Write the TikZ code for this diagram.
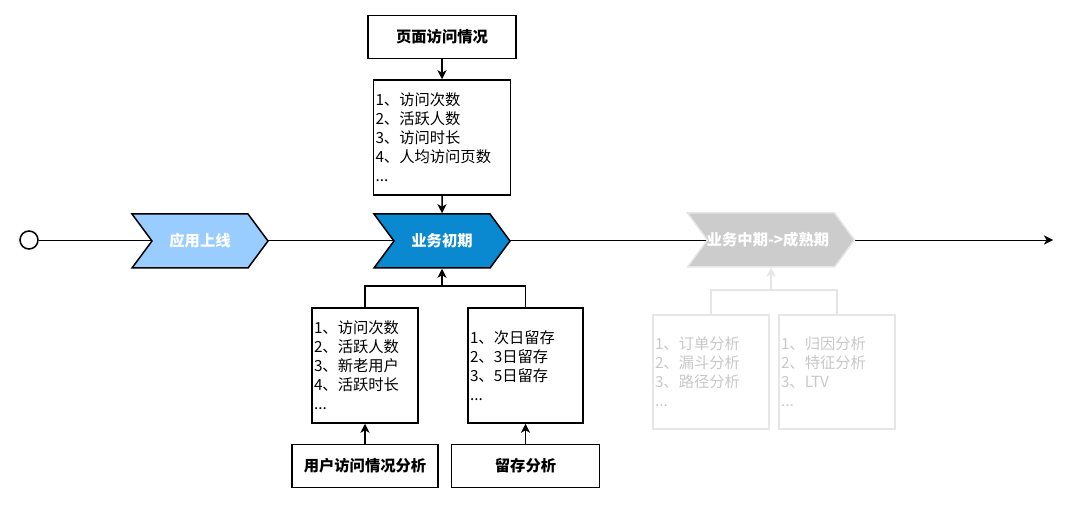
\documentclass[tikz,border=0pt]{standalone}
\usepackage{fontspec}
\setmainfont{Noto Sans CJK SC}
\usetikzlibrary{arrows.meta,shapes.symbols,positioning,backgrounds}

\definecolor{lightblue}{HTML}{99CCFF}
\definecolor{darkblue}{HTML}{0A88D0}
\definecolor{fadefill}{HTML}{CCCCCC}
\definecolor{fadeline}{HTML}{E6E6E6}
\definecolor{fadetext}{HTML}{C8C8C8}

\begin{document}
\begin{tikzpicture}[x=1pt,y=-1pt,>={Stealth[length=9pt,width=9pt,inset=2.5pt]},line width=1.5pt,
  every node/.style={font=\fontsize{15.3}{19}\selectfont},
  head/.style={draw,font=\bfseries\fontsize{15.3}{19}\selectfont,minimum height=43pt,inner sep=0pt},
  list/.style={draw,align=left,inner sep=2pt,minimum height=115pt},
  phase/.style={signal,signal from=west,signal to=east,signal pointer angle=107,draw,
    text=white,font=\bfseries\fontsize{15.3}{19}\selectfont,inner sep=0pt,
    minimum width=136pt,minimum height=54pt}]
  \useasboundingbox (0,0) rectangle (1080,505);

  % main stages
  \node[draw,circle,fill=white,minimum size=18pt,inner sep=0pt] (start) at (29,240) {};
  \node[phase,fill=lightblue] (online) at (200,241) {应用上线};
  \node[phase,fill=darkblue] (early) at (442,241) {业务初期};
  \node[phase,fill=fadefill,draw=fadeline,minimum width=167pt] (mature) at (771,240)
    {\hspace*{-6pt}业务中期->成熟期};
  \coordinate (end) at (1053,240);

  % page visits
  \node[head,minimum width=148pt] (pagehead) at (442,37) {页面访问情况};
  \node[list,text width=133pt] (pagelist) [below=20pt of pagehead]
    {1、访问次数\\2、活跃人数\\3、访问时长\\4、人均访问页数\\...};

  % user visits and retention
  \node[list,text width=102pt] (ualist) at (365,365.5)
    {1、访问次数\\2、活跃人数\\3、新老用户\\4、活跃时长\\...};
  \node[list,text width=111pt] (rslist) at (525.5,365.5)
    {1、次日留存\\2、3日留存\\3、5日留存\\...};
  \node[head,minimum width=146pt] (uahead) [below=20pt of ualist] {用户访问情况分析};
  \node[head,minimum width=148pt] (rshead) [below=20pt of rslist] {留存分析};
  \coordinate (join) at (442,286);

  % later analysis
  \node[list,draw=fadeline,text=fadetext,text width=112pt,minimum height=114pt] (order) at (711,372)
    {1、订单分析\\2、漏斗分析\\3、路径分析\\...};
  \node[list,draw=fadeline,text=fadetext,text width=112pt,minimum height=114pt] (attr) at (837,372)
    {1、归因分析\\2、特征分析\\3、LTV\\...};
  \coordinate (join2) at (771,290);

  \begin{scope}[on background layer]
    \draw[->] (start) -- (end);
  \end{scope}

  \draw[->] (pagehead) -- (pagelist);
  \draw[->] (pagelist) -- (early);
  \draw (ualist.north) |- (join) -| (rslist.north);
  \draw[->] (join) -- (early.south);
  \draw[->] (uahead) -- (ualist);
  \draw[->] (rshead) -- (rslist);
  \draw[fadeline] (order.north) |- (join2) -| (attr.north);
  \draw[->,fadeline] (join2) -- (mature.south);
\end{tikzpicture}
\end{document}
